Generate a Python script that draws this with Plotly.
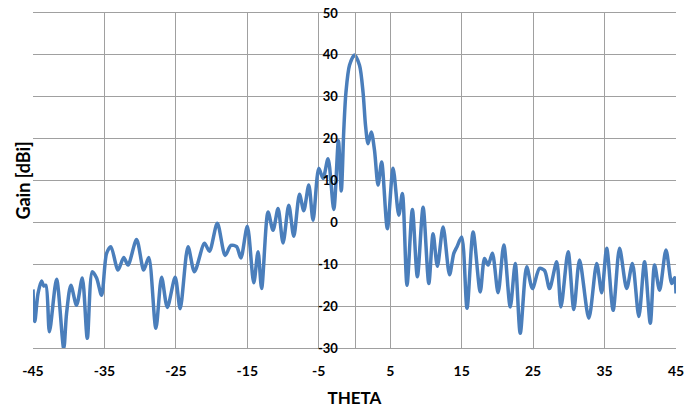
import plotly.graph_objects as go

theta = [-45.0, -44.75, -44.3, -43.8, -43.5, -43.2, -42.7, -41.7, -40.7, -40.3, -39.7, -38.9,
         -38.1, -37.4, -36.7, -36.1, -35.4, -34.7, -34.1, -33.1, -32.3, -31.7, -30.5, -29.5,
         -28.8, -27.8, -27.0, -26.2, -25.1, -24.4, -23.3, -22.4, -21.0, -20.3, -19.2, -18.1,
         -17.3, -16.5, -15.9, -15.0, -14.1, -13.5, -13.0, -12.1, -11.4, -10.7, -10.0, -9.2,
         -8.5, -7.7, -7.1, -6.4, -5.8, -5.0, -4.4, -3.7, -2.9, -2.25, -1.85, -1.5,
         -1.2, -0.7, 0.0, 0.7, 1.2, 1.55, 1.9, 2.35, 2.8, 3.3, 3.8, 4.6, 5.4,
         6.2, 6.7, 7.35, 8.1, 8.8, 9.6, 10.4, 11.0, 11.6, 12.4, 13.3, 13.9,
         14.35, 15.0, 15.75, 16.6, 17.6, 18.2, 18.7, 19.3, 20.1, 20.9, 21.8, 22.5,
         23.2, 24.1, 24.9, 25.9, 26.6, 27.3, 28.3, 28.9, 29.9, 30.7, 31.5, 32.8,
         33.9, 34.6, 35.3, 36.2, 37.1, 38.1, 38.9, 39.8, 40.6, 41.4, 42.0, 42.7,
         43.6, 44.4, 44.8, 45.0]

gain = [-16.0, -23.7, -17.0, -14.0, -15.2, -15.0, -26.1, -13.6, -30.1, -21.7, -15.0, -19.8,
        -13.3, -27.7, -11.8, -13.3, -17.4, -7.4, -5.8, -11.4, -8.4, -10.2, -4.1, -11.4,
        -8.4, -25.3, -13.1, -20.3, -13.1, -20.6, -5.8, -11.8, -5.0, -6.9, -0.2, -7.9,
        -5.5, -5.8, -8.5, -0.9, -14.4, -7.0, -15.8, 2.5, -1.9, 3.3, -4.9, 4.1,
        -3.3, 6.7, 2.8, 8.9, 0.5, 12.9, 10.5, 15.2, 3.1, 19.5, 7.5, 22.0,
        31.0, 37.5, 40.0, 37.5, 31.0, 23.0, 18.8, 21.6, 17.2, 8.9, 14.4, -1.5, 12.9,
        1.7, 6.9, -15.0, 3.1, -13.0, 3.6, -14.6, -2.7, -10.5, -1.1, -12.5, -7.4,
        -5.8, -3.5, -20.5, -2.3, -16.6, -8.6, -10.2, -7.4, -16.8, -5.4, -20.2, -9.8,
        -26.5, -10.6, -15.8, -11.0, -11.5, -15.8, -9.4, -20.2, -7.0, -20.8, -9.0, -22.9,
        -9.8, -16.8, -6.2, -21.0, -6.2, -15.8, -9.8, -22.5, -9.4, -24.1, -10.2, -16.2,
        -6.6, -14.6, -13.2, -17.0]

x_ticks = [-45, -35, -25, -15, -5, 5, 15, 25, 35, 45]
x_tick_labels = ["-45", "-35", "-25", "-15", "-5", "5", "15", "25", "35", "45"]
y_ticks = [-30, -20, -10, 0, 10, 20, 30, 40, 50]
y_tick_labels = ["-30", "-20", "-10", "0", "10", "20", "30", "40", "50"]

FONT = "Lato"
GRID = "#A0A0A0"

fig = go.Figure()
fig.add_trace(go.Scatter(
    x=theta, y=gain, mode="lines",
    line=dict(color="#4A7EBB", width=3.5, shape="spline", smoothing=0.8),
    showlegend=False, hoverinfo="skip"))

fig.update_layout(
    width=685, height=410,
    margin=dict(l=33, r=9, t=13, b=62, autoexpand=False),
    paper_bgcolor="white", plot_bgcolor="white",
    font=dict(family=FONT, color="black"),
    xaxis=dict(
        range=[-45, 45], tickvals=x_ticks, ticktext=x_tick_labels,
        showgrid=True, gridcolor=GRID, gridwidth=1, zeroline=False,
        showline=True, linecolor=GRID, linewidth=1, mirror=True,
        ticks="", ticklabelstandoff=10, ticklabeloverflow="allow",
        automargin=False,
        tickfont=dict(family=FONT, size=14, weight="bold", color="black"),
        title=dict(text="THETA", standoff=14,
                   font=dict(family=FONT, size=17, weight="bold", color="black")),
    ),
    yaxis=dict(
        range=[-30, 50], tickvals=y_ticks, ticktext=y_tick_labels,
        anchor="free", position=0.5,
        showgrid=True, gridcolor=GRID, gridwidth=1, zeroline=False,
        showline=True, linecolor=GRID, linewidth=1,
        ticks="", ticklabelstandoff=14, ticklabeloverflow="allow",
        automargin=False,
        tickfont=dict(family=FONT, size=13, weight="bold", color="black"),
    ),
    annotations=[dict(
        text="Gain [dBi]", xref="paper", yref="paper", x=-0.017, y=0.5,
        xanchor="center", yanchor="middle", textangle=-90, showarrow=False,
        font=dict(family=FONT, size=18, weight="bold", color="black"))],
)

fig.write_html("out.html", config={"displayModeBar": False},
               post_script="document.body.style.margin='0px';")
